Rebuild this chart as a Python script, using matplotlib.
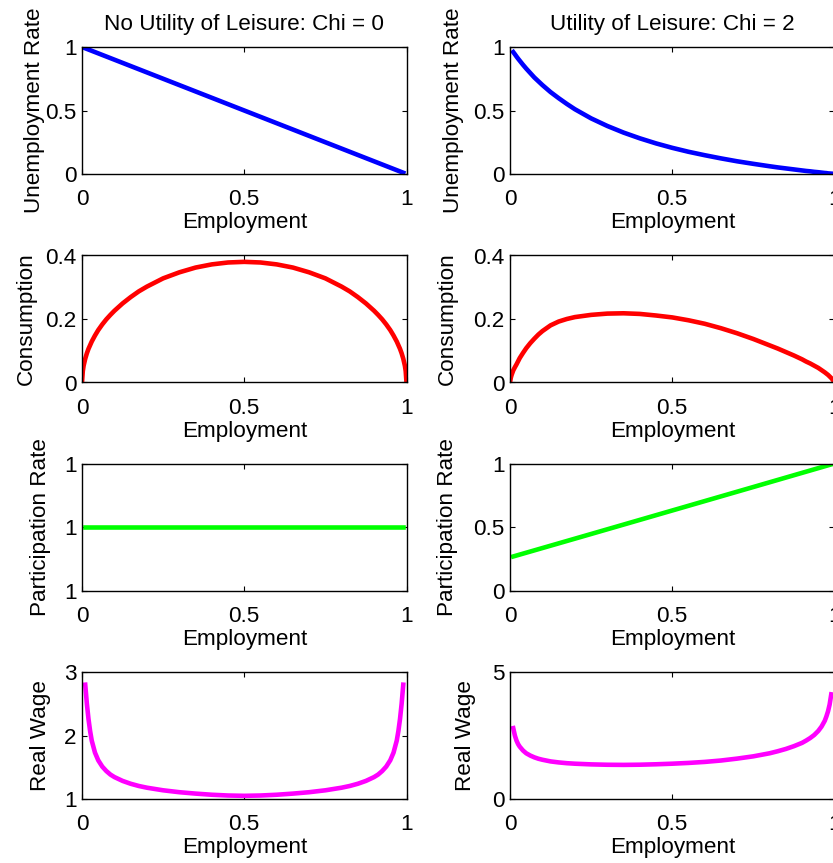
import numpy as np
import matplotlib
matplotlib.use('Agg')
import matplotlib.pyplot as plt
from matplotlib.ticker import FormatStrFormatter

# employment grid shared by unemployment and wage curves
emp = [0.01, 0.015, 0.02, 0.025, 0.03, 0.04, 0.05, 0.0625, 0.075, 0.0875, 0.1, 0.125, 0.15, 0.175, 0.2,
       0.25, 0.3, 0.35, 0.4, 0.45, 0.5, 0.55, 0.6, 0.65, 0.7, 0.75,
       0.8, 0.825, 0.85, 0.875, 0.9, 0.9125, 0.925, 0.9375, 0.95, 0.96, 0.97, 0.975, 0.98, 0.985, 0.99]

# unemployment rate
unemp_chi0 = [0.99, 0.985, 0.98, 0.975, 0.97, 0.96, 0.95, 0.9375, 0.925, 0.9125, 0.9, 0.875, 0.85, 0.825, 0.8,
              0.75, 0.7, 0.65, 0.6, 0.55, 0.5, 0.45, 0.4, 0.35, 0.3, 0.25,
              0.2, 0.175, 0.15, 0.125, 0.1, 0.0875, 0.075, 0.0625, 0.05, 0.04, 0.03, 0.025, 0.02, 0.015, 0.01]
unemp_chi2 = [0.96, 0.943, 0.925, 0.908, 0.892, 0.86, 0.83, 0.795, 0.76, 0.73, 0.70, 0.645, 0.597, 0.552, 0.51,
              0.438, 0.378, 0.326, 0.281, 0.241, 0.206, 0.175, 0.148, 0.123, 0.10, 0.08,
              0.061, 0.052, 0.044, 0.036, 0.028, 0.024, 0.021, 0.017, 0.014, 0.011, 0.008, 0.007, 0.005, 0.004, 0.003]

# consumption (own grid, reaches both ends)
cons_emp = [0.0, 0.0025, 0.005, 0.01, 0.015, 0.02, 0.03, 0.04, 0.05, 0.0625, 0.075, 0.0875, 0.1, 0.125, 0.15,
            0.175, 0.2, 0.25, 0.3, 0.35, 0.4, 0.45, 0.5, 0.55, 0.6, 0.65, 0.7, 0.75, 0.8, 0.825, 0.85,
            0.875, 0.9, 0.9125, 0.925, 0.9375, 0.95, 0.96, 0.97, 0.98, 0.985, 0.99, 0.995, 0.9975, 1.0]
cons_chi0 = [0.0, 0.036, 0.053, 0.075, 0.092, 0.106, 0.129, 0.148, 0.165, 0.183, 0.199, 0.213, 0.226, 0.249, 0.269,
             0.287, 0.302, 0.328, 0.347, 0.362, 0.372, 0.378, 0.38, 0.378, 0.372, 0.362, 0.347, 0.328, 0.302, 0.287, 0.269,
             0.249, 0.226, 0.213, 0.199, 0.183, 0.165, 0.148, 0.129, 0.106, 0.092, 0.075, 0.053, 0.036, 0.0]
cons_chi2 = [0.0, 0.015, 0.024, 0.038, 0.048, 0.057, 0.077, 0.093, 0.108, 0.124, 0.138, 0.151, 0.162, 0.18, 0.192,
             0.2, 0.206, 0.213, 0.217, 0.218, 0.216, 0.211, 0.205, 0.196, 0.185, 0.171, 0.155, 0.137, 0.117, 0.107, 0.096,
             0.085, 0.073, 0.066, 0.06, 0.053, 0.046, 0.039, 0.032, 0.024, 0.019, 0.014, 0.008, 0.004, 0.0]

# participation rate
part_emp = [0.01, 0.25, 0.5, 0.75, 0.99]
part_chi0 = [1.0, 1.0, 1.0, 1.0, 1.0]
part_chi2 = [0.268, 0.445, 0.63, 0.815, 0.993]

# real wage
wage_chi0 = [2.8, 2.5, 2.26, 2.07, 1.92, 1.73, 1.61, 1.51, 1.44, 1.385, 1.345, 1.285, 1.24, 1.205, 1.178,
             1.137, 1.107, 1.085, 1.067, 1.055, 1.05, 1.055, 1.067, 1.085, 1.107, 1.137,
             1.178, 1.205, 1.24, 1.285, 1.345, 1.385, 1.44, 1.51, 1.61, 1.73, 1.92, 2.07, 2.26, 2.5, 2.8]
wage_chi2 = [2.79, 2.5, 2.3, 2.16, 2.06, 1.91, 1.8, 1.71, 1.64, 1.585, 1.545, 1.48, 1.44, 1.41, 1.39,
             1.363, 1.348, 1.343, 1.35, 1.367, 1.39, 1.42, 1.46, 1.515, 1.59, 1.68,
             1.8, 1.88, 1.97, 2.08, 2.21, 2.3, 2.4, 2.52, 2.68, 2.85, 3.08, 3.25, 3.45, 3.72, 4.12]

titles = ["No Utility of Leisure: Chi = 0", "Utility of Leisure: Chi = 2"]
ylabels = ["Unemployment Rate", "Consumption", "Participation Rate", "Real Wage"]

plt.rcParams['font.family'] = ['Liberation Sans', 'DejaVu Sans']
fs = 16.2
lw = 3.3

fig = plt.figure(figsize=(8.33, 8.63), dpi=100)

W, H = 833.0, 863.0
col_x = [82, 510]
row_top = [47, 255.5, 463.5, 672]
ax_w = 324.5
ax_h = 127

# y label positions (axes fraction), read per panel
ylab_x = [[-0.114, -0.142], [-0.138, -0.16], [-0.096, -0.16], [-0.096, -0.105]]

ax = np.empty((4, 2), dtype=object)
for r in range(4):
    for c in range(2):
        ax[r, c] = fig.add_axes([col_x[c] / W, 1 - (row_top[r] + ax_h) / H, ax_w / W, ax_h / H])

ax[0, 0].plot(emp, unemp_chi0, color='blue', lw=lw)
ax[0, 1].plot(emp, unemp_chi2, color='blue', lw=lw)
ax[1, 0].plot(cons_emp, cons_chi0, color='red', lw=lw)
ax[1, 1].plot(cons_emp, cons_chi2, color='red', lw=lw)
ax[2, 0].plot(part_emp, part_chi0, color=(0, 1, 0), lw=lw)
ax[2, 1].plot(part_emp, part_chi2, color=(0, 1, 0), lw=lw)
ax[3, 0].plot(emp, wage_chi0, color='magenta', lw=lw)
ax[3, 1].plot(emp, wage_chi2, color='magenta', lw=lw)

ax[0, 0].set_ylim([0, 1]); ax[0, 1].set_ylim([0, 1])
ax[0, 0].set_yticks([0, 0.5, 1]); ax[0, 1].set_yticks([0, 0.5, 1])
ax[1, 0].set_ylim([0, 0.4]); ax[1, 1].set_ylim([0, 0.4])
ax[1, 0].set_yticks([0, 0.2, 0.4]); ax[1, 1].set_yticks([0, 0.2, 0.4])
ax[2, 0].set_ylim([0.999, 1.001])
ax[2, 0].set_yticks([0.999, 1.0, 1.001])
ax[2, 0].set_yticklabels(["1", "1", "1"])
ax[2, 1].set_ylim([0, 1]); ax[2, 1].set_yticks([0, 0.5, 1])
ax[3, 0].set_ylim([1, 3]); ax[3, 0].set_yticks([1, 2, 3])
ax[3, 1].set_ylim([0, 5]); ax[3, 1].set_yticks([0, 5])

for r in range(4):
    for c in range(2):
        a = ax[r, c]
        a.set_xlim([0, 1])
        a.set_xticks([0, 0.5, 1])
        a.xaxis.set_major_formatter(FormatStrFormatter('%g'))
        if not (r == 2 and c == 0):
            a.yaxis.set_major_formatter(FormatStrFormatter('%g'))
        a.tick_params(direction='in', top=True, right=True, length=3.5, width=0.8,
                      labelsize=fs)
        a.tick_params(axis='x', pad=11)
        a.tick_params(axis='y', pad=4)
        for s in a.spines.values():
            s.set_linewidth(1.0)
        a.set_xlabel("Employment", fontsize=fs)
        a.xaxis.set_label_coords(0.5, -0.30)
        a.set_ylabel(ylabels[r], fontsize=fs)
        a.yaxis.set_label_coords(ylab_x[r][c], 0.5)

for c in range(2):
    ax[0, c].set_title(titles[c], fontsize=fs, pad=12)

fig.savefig("out.png", dpi=100)
